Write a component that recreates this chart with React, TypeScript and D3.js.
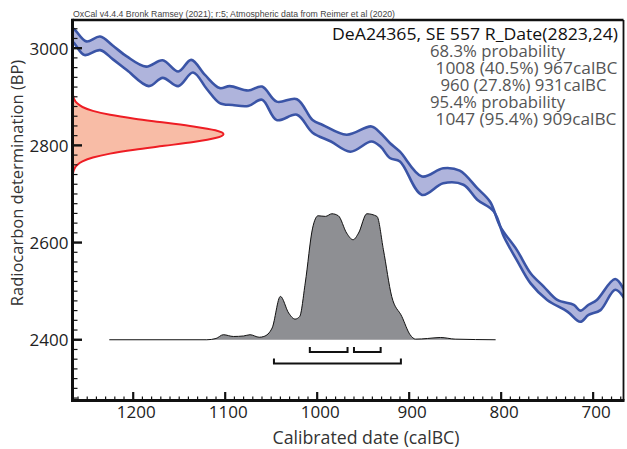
import React from "react";
import * as d3 from "d3";

// ---- Data ----
const calUpperYears = [1270, 1263, 1251, 1236, 1222, 1207, 1186, 1168, 1151, 1137, 1122, 1106, 1095, 1075, 1060, 1044, 1022, 1005, 994, 968, 941, 931, 921, 910, 886, 863, 845, 826, 812, 801, 783, 768, 754, 739, 721, 714, 705, 696, 676, 665];
const calUpperBP = [3048, 3037, 3014, 3024, 3005, 2983, 2962, 2975, 2952, 2976, 2945, 2918, 2922, 2913, 2921, 2890, 2895, 2852, 2842, 2822, 2839, 2825, 2805, 2787, 2736, 2753, 2748, 2712, 2684, 2633, 2585, 2537, 2510, 2482, 2472, 2460, 2472, 2482, 2525, 2497];
const calLowerYears = [1270, 1264, 1253, 1236, 1222, 1207, 1183, 1168, 1151, 1135, 1120, 1106, 1092, 1075, 1060, 1044, 1022, 1005, 985, 964, 941, 931, 921, 910, 886, 863, 841, 826, 808, 797, 783, 768, 750, 728, 714, 705, 692, 676, 665];
const calLowerBP = [3022, 3010, 2986, 2996, 2977, 2955, 2922, 2939, 2922, 2950, 2916, 2887, 2883, 2881, 2894, 2852, 2863, 2826, 2808, 2787, 2808, 2797, 2774, 2767, 2698, 2722, 2719, 2688, 2664, 2612, 2564, 2516, 2482, 2458, 2437, 2451, 2461, 2503, 2482];

const distYears = [1226, 1120, 1110, 1102, 1091, 1080, 1073, 1063, 1058, 1049, 1040, 1031, 1024, 1019, 1013, 1005, 999, 991, 984, 977, 968, 961, 955, 946, 935, 928, 919, 908, 899, 893, 880, 866, 850, 806];
const distProb = [0, 0, 0.01, 0.04, 0.026, 0.03, 0.04, 0.02, 0.026, 0.093, 0.344, 0.212, 0.164, 0.185, 0.45, 0.886, 0.984, 0.979, 1.0, 0.984, 0.847, 0.794, 0.847, 1.0, 0.979, 0.714, 0.344, 0.185, 0.04, 0.005, 0.01, 0.018, 0.005, 0];

const rDateBP = [2919, 2911, 2903, 2895, 2887, 2879, 2871, 2863, 2855, 2847, 2839, 2831, 2823, 2815, 2807, 2799, 2791, 2783, 2775, 2767, 2759, 2751, 2743, 2735, 2727];
const rDateDens = [0.0003, 0.0012, 0.0039, 0.011, 0.029, 0.066, 0.135, 0.249, 0.411, 0.607, 0.801, 0.946, 1, 0.946, 0.801, 0.607, 0.411, 0.249, 0.135, 0.066, 0.029, 0.011, 0.0039, 0.0012, 0.0003];

const ranges68 = [[1008, 967], [960, 931]];
const ranges95 = [[1047, 909]];

const xMajorTicks = [1200, 1100, 1000, 900, 800, 700];
const yMajorTicks = [2400, 2600, 2800, 3000];

const headerTitle = "OxCal v4.4.4 Bronk Ramsey (2021); r:5; Atmospheric data from Reimer et al (2020)";
const sampleLabel = "DeA24365, SE 557 R_Date(2823,24)";
const probLines = [
  "68.3% probability",
  "1008 (40.5%) 967calBC",
  "960 (27.8%) 931calBC",
  "95.4% probability",
  "1047 (95.4%) 909calBC",
];
const xLabel = "Calibrated date (calBC)";
const yLabel = "Radiocarbon determination (BP)";

// ---- Layout ----
const W = 627, H = 449;
const L = 72.5, R = 623.5, T = 20, B = 400.5;
const FONT = "'Open Sans', 'Noto Sans', sans-serif";
const probX = [430, 435.5, 440.5, 430, 435.5];
const probLen = [135, 182, 166, 135, 181];

export default function App() {
  const x = d3.scaleLinear().domain([1266, 667]).range([L, R]);
  const y = d3.scaleLinear().domain([2275, 3058]).range([B, T]);

  const upperPts: [number, number][] = calUpperYears.map((yr, i) => [x(yr), y(calUpperBP[i])]);
  const lowerPts: [number, number][] = calLowerYears.map((yr, i) => [x(yr), y(calLowerBP[i])]);
  const line = d3.line().curve(d3.curveCatmullRom.alpha(0.5));
  const upperPath = line(upperPts) || "";
  const lowerPath = line(lowerPts) || "";
  const lowerRevPath = line([...lowerPts].reverse()) || "";
  const bandPath = upperPath + "L" + lowerRevPath.substring(1) + "Z";

  // R_Date distribution on y axis
  const rWidth = 151;
  const rArea = d3
    .area<number>()
    .y((d, i) => y(rDateBP[i]))
    .x0(L)
    .x1((d) => L + d * rWidth)
    .curve(d3.curveMonotoneY);
  const rLine = d3
    .line<number>()
    .y((d, i) => y(rDateBP[i]))
    .x((d) => L + d * rWidth)
    .curve(d3.curveMonotoneY);

  // Calibrated distribution
  const baseY = y(2400);
  const dH = 126;
  const dArea = d3
    .area<number>()
    .x((d, i) => x(distYears[i]))
    .y0(baseY)
    .y1((d) => baseY - d * dH)
    .curve(d3.curveMonotoneX);
  const dLine = d3
    .line<number>()
    .x((d, i) => x(distYears[i]))
    .y((d) => baseY - d * dH)
    .curve(d3.curveMonotoneX);

  const xMinor = d3.range(1260, 666, -10).filter((v) => v % 100 !== 0);
  const yMinor = d3.range(2280, 3058, 20).filter((v) => v % 200 !== 0);

  const bracket = (r: number[], yy: number, k: number) => {
    const a = x(r[0]), b = x(r[1]);
    return (
      <path key={k + "-" + r[0]} d={`M${a},${yy - 5}V${yy}H${b}V${yy - 5}`} fill="none" stroke="#111" strokeWidth={2} />
    );
  };

  return (
    <svg width={W} height={H} style={{ position: "absolute", left: 0, top: 0, background: "#fff" }} fontFamily={FONT}>
      <defs>
        <clipPath id="plotclip">
          <rect x={L} y={T} width={R - L} height={B - T} />
        </clipPath>
      </defs>
      <rect x={0} y={0} width={W} height={H} fill="#fff" />

      <text x={73} y={16.5} fontFamily="'Liberation Sans', Arial, sans-serif" fontSize={8.5} fill="#444" textLength={322} lengthAdjust="spacingAndGlyphs">
        {headerTitle}
      </text>

      <g clipPath="url(#plotclip)">
        <path d={bandPath} fill="#AFB4DC" stroke="none" />
        <path d={upperPath} fill="none" stroke="#3A54A6" strokeWidth={2.6} />
        <path d={lowerPath} fill="none" stroke="#3A54A6" strokeWidth={2.6} />

        <path d={rArea(rDateDens) || ""} fill="#F8BCA6" stroke="none" />
        <path d={rLine(rDateDens) || ""} fill="none" stroke="#EE1D24" strokeWidth={2} />

        <path d={dArea(distProb) || ""} fill="#8E8F93" stroke="none" />
        <path d={dLine(distProb) || ""} fill="none" stroke="#111" strokeWidth={1} />
      </g>

      {ranges68.map((r, i) => bracket(r, 352, i))}
      {ranges95.map((r, i) => bracket(r, 363.5, 10 + i))}

      {/* frame */}
      <line x1={L} y1={T} x2={R} y2={T} stroke="#111" strokeWidth={2.5} />
      <line x1={R} y1={T} x2={R} y2={B} stroke="#111" strokeWidth={1.8} />
      <line x1={L} y1={T - 1.2} x2={L} y2={B + 1.5} stroke="#111" strokeWidth={3} />
      <line x1={L - 1.5} y1={B} x2={R + 1} y2={B} stroke="#111" strokeWidth={3} />

      {/* x ticks */}
      {xMinor.map((v) => (
        <line key={"xm" + v} x1={x(v)} x2={x(v)} y1={B} y2={B - 4} stroke="#111" strokeWidth={1.2} />
      ))}
      {xMajorTicks.map((v) => (
        <g key={"xM" + v}>
          <line x1={x(v)} x2={x(v)} y1={B} y2={B - 8.5} stroke="#111" strokeWidth={2.2} />
          <text x={x(v) + 3} y={418} textAnchor="middle" fontSize={17} fill="#222">
            {v}
          </text>
        </g>
      ))}

      {/* y ticks */}
      {yMinor.map((v) => (
        <line key={"ym" + v} x1={L} x2={L + 5} y1={y(v)} y2={y(v)} stroke="#111" strokeWidth={1.2} />
      ))}
      {yMajorTicks.map((v) => (
        <g key={"yM" + v}>
          <line x1={L} x2={L + 9.5} y1={y(v)} y2={y(v)} stroke="#111" strokeWidth={2.4} />
          <text x={68.5} y={y(v) + 6.5} textAnchor="end" fontSize={17} fill="#222">
            {v}
          </text>
        </g>
      ))}

      <text x={366} y={444} textAnchor="middle" fontSize={17.5} fill="#333" textLength={187} lengthAdjust="spacingAndGlyphs">
        {xLabel}
      </text>
      <text transform={`translate(22.5, 183) rotate(-90)`} textAnchor="middle" fontSize={16.5} fill="#333">
        {yLabel}
      </text>

      <text x={618} y={39.5} textAnchor="end" fontSize={17} fill="#111" textLength={286} lengthAdjust="spacingAndGlyphs">
        {sampleLabel}
      </text>
      {probLines.map((s, i) => (
        <text key={"p" + i} x={probX[i]} y={56.5 + i * 17} fontSize={15.5} fill="#555" textLength={probLen[i]} lengthAdjust="spacingAndGlyphs">
          {s}
        </text>
      ))}
    </svg>
  );
}
